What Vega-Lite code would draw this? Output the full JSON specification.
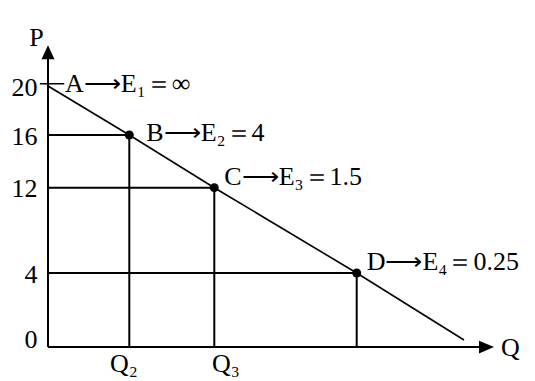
{
  "$schema": "https://vega.github.io/schema/vega-lite/v6.json",
  "width": 487,
  "height": 327,
  "autosize": {"type": "none"},
  "padding": {"left": 48, "top": 20, "right": 0, "bottom": 34},
  "background": "white",
  "config": {"view": {"stroke": null}},
  "datasets": {
    "points": [
      {"pt": "A", "grp": 1, "Q": 0, "P": 20, "label": "A⟶E₁＝∞"},
      {"pt": "B", "grp": 1, "Q": 4, "P": 16, "label": "B⟶E₂＝4"},
      {"pt": "C", "grp": 2, "Q": 8, "P": 12, "label": "C⟶E₃＝1.5"},
      {"pt": "D", "grp": 2, "Q": 16, "P": 4, "label": "D⟶E₄＝0.25"}
    ],
    "demand": [
      {"Q": 0, "P": 20},
      {"Q": 4, "P": 16},
      {"Q": 8, "P": 12},
      {"Q": 16, "P": 4},
      {"Q": 20, "P": 0.38}
    ],
    "axes": [
      {"axis": "P", "Q": 0, "P": 0, "Q2": 0, "P2": 23},
      {"axis": "Q", "Q": 0, "P": 0, "Q2": 22, "P2": 0}
    ],
    "tick": [{"Q": -0.4, "Q2": 0.8, "P": 20.2}],
    "arrowP": [{"Q": 0, "P": 23, "label": "P"}],
    "arrowQ": [{"Q": 22, "P": 0, "label": "Q"}]
  },
  "layer": [
    {
      "data": {"name": "axes"},
      "mark": {"type": "rule", "color": "black", "strokeWidth": 2},
      "encoding": {
        "x": {
          "field": "Q", "type": "quantitative",
          "scale": {"domain": [0, 4, 8, 16, 20, 22], "range": [0, 81.3, 166.3, 308.7, 416, 438.5], "clamp": false},
          "axis": {
            "values": [4, 8],
            "labelExpr": "datum.value == 4 ? 'Q₂' : 'Q₃'",
            "labelFont": "Liberation Serif",
            "labelFontSize": 26,
            "labelColor": "black",
            "labelPadding": 3,
            "labelOffset": {"condition": {"test": "datum.value == 4", "value": -6}, "value": 11},
            "ticks": false,
            "domain": false,
            "grid": false,
            "title": null
          }
        },
        "x2": {"field": "Q2"},
        "y": {
          "field": "P", "type": "quantitative",
          "scale": {"domain": [0, 4, 12, 16, 20, 23], "range": [327, 253, 167.7, 115, 66, 21], "clamp": false},
          "axis": {
            "values": [0, 4, 12, 16, 20],
            "labelFont": "Liberation Serif",
            "labelFontSize": 26,
            "labelColor": "black",
            "labelPadding": 11,
            "labelOffset": {"condition": {"test": "datum.value == 0", "value": -8}, "value": 1},
            "ticks": false,
            "domain": false,
            "grid": false,
            "title": null
          }
        },
        "y2": {"field": "P2"}
      }
    },
    {
      "data": {"name": "tick"},
      "mark": {"type": "rule", "color": "black", "strokeWidth": 1.5},
      "encoding": {
        "x": {"field": "Q", "type": "quantitative"},
        "x2": {"field": "Q2"},
        "y": {"field": "P", "type": "quantitative"}
      }
    },
    {
      "data": {"name": "points"},
      "transform": [{"filter": "datum.pt != 'A'"}],
      "mark": {"type": "rule", "color": "black", "strokeWidth": 2},
      "encoding": {
        "x": {"field": "Q", "type": "quantitative"},
        "x2": {"datum": 0},
        "y": {"field": "P", "type": "quantitative"}
      }
    },
    {
      "data": {"name": "points"},
      "transform": [{"filter": "datum.pt != 'A'"}],
      "mark": {"type": "rule", "color": "black", "strokeWidth": 2},
      "encoding": {
        "x": {"field": "Q", "type": "quantitative"},
        "y": {"field": "P", "type": "quantitative"},
        "y2": {"datum": 0}
      }
    },
    {
      "data": {"name": "demand"},
      "mark": {"type": "line", "color": "black", "strokeWidth": 1.6},
      "encoding": {
        "x": {"field": "Q", "type": "quantitative"},
        "y": {"field": "P", "type": "quantitative"}
      }
    },
    {
      "data": {"name": "points"},
      "transform": [{"filter": "datum.pt != 'A'"}],
      "mark": {"type": "point", "filled": true, "color": "black", "size": 80, "opacity": 1},
      "encoding": {
        "x": {"field": "Q", "type": "quantitative"},
        "y": {"field": "P", "type": "quantitative"}
      }
    },
    {
      "data": {"name": "points"},
      "transform": [{"filter": "datum.grp == 1"}],
      "mark": {"type": "text", "font": "Liberation Serif", "fontSize": 26, "color": "black", "align": "left", "baseline": "middle", "dx": 17, "dy": -2},
      "encoding": {
        "x": {"field": "Q", "type": "quantitative"},
        "y": {"field": "P", "type": "quantitative"},
        "text": {"field": "label"}
      }
    },
    {
      "data": {"name": "points"},
      "transform": [{"filter": "datum.grp == 2"}],
      "mark": {"type": "text", "font": "Liberation Serif", "fontSize": 26, "color": "black", "align": "left", "baseline": "middle", "dx": 10, "dy": -11},
      "encoding": {
        "x": {"field": "Q", "type": "quantitative"},
        "y": {"field": "P", "type": "quantitative"},
        "text": {"field": "label"}
      }
    },
    {
      "data": {"name": "arrowP"},
      "mark": {"type": "point", "filled": true, "color": "black", "opacity": 1, "size": 196, "shape": "M0,-1L0.93,1L-0.93,1Z"},
      "encoding": {
        "x": {"field": "Q", "type": "quantitative"},
        "y": {"field": "P", "type": "quantitative"}
      }
    },
    {
      "data": {"name": "arrowQ"},
      "mark": {"type": "point", "filled": true, "color": "black", "opacity": 1, "size": 225, "shape": "M1,0L-1,-0.85L-1,0.85Z"},
      "encoding": {
        "x": {"field": "Q", "type": "quantitative"},
        "y": {"field": "P", "type": "quantitative"}
      }
    },
    {
      "data": {"name": "arrowP"},
      "mark": {"type": "text", "font": "Liberation Serif", "fontSize": 26, "color": "black", "align": "center", "baseline": "middle", "dx": -11.5, "dy": -14},
      "encoding": {
        "x": {"field": "Q", "type": "quantitative"},
        "y": {"field": "P", "type": "quantitative"},
        "text": {"field": "label"}
      }
    },
    {
      "data": {"name": "arrowQ"},
      "mark": {"type": "text", "font": "Liberation Serif", "fontSize": 26, "color": "black", "align": "center", "baseline": "middle", "dx": 24, "dy": 1},
      "encoding": {
        "x": {"field": "Q", "type": "quantitative"},
        "y": {"field": "P", "type": "quantitative"},
        "text": {"field": "label"}
      }
    }
  ]
}
